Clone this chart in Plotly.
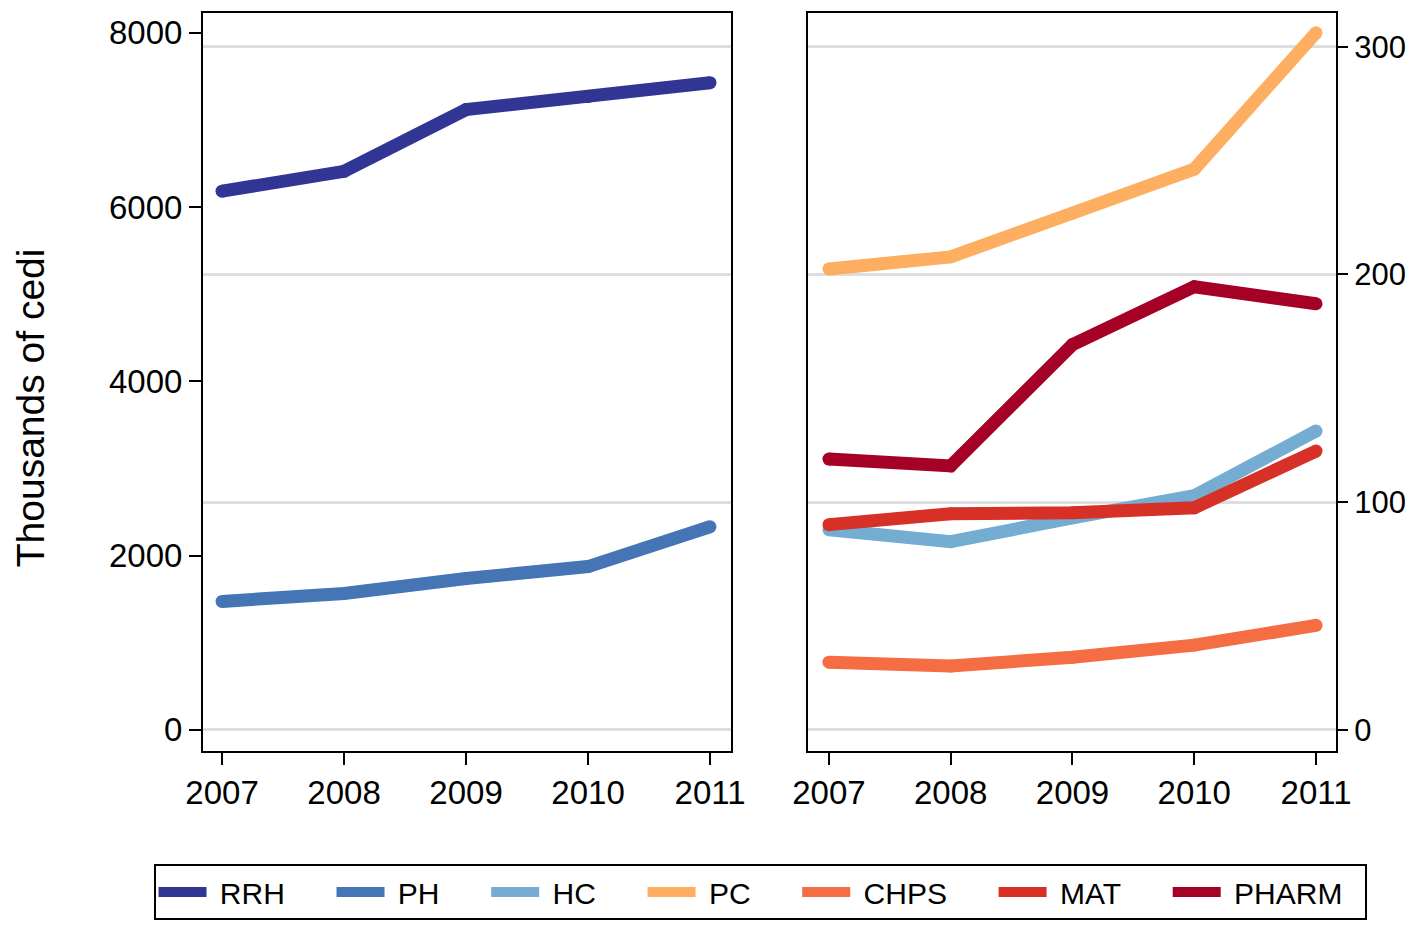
import plotly.graph_objects as go

# Dados
anos = [2007, 2008, 2009, 2010, 2011]

# painel esquerdo (escala 0-8000)
rrh = [6183, 6411, 7120, 7269, 7429]
ph = [1474, 1566, 1737, 1874, 2331]

# painel direito (escala 0-300)
hc = [87.9, 82.6, 93.1, 102.8, 131.2]
pc = [202.4, 207.7, 226.9, 246.2, 306.1]
chps = [29.7, 28.0, 31.9, 37.2, 45.9]
mat = [90.1, 94.9, 95.3, 97.5, 122.4]
pharm = [118.9, 115.9, 169.2, 194.6, 187.1]

ticks_esq = [0, 2000, 4000, 6000, 8000]
ticks_dir = [0, 100, 200, 300]

cores = {
    'RRH': '#313695', 'PH': '#4575b4', 'HC': '#74add1', 'PC': '#fdae61',
    'CHPS': '#f46d43', 'MAT': '#d73027', 'PHARM': '#a50026',
}

# espaços não separáveis para afastar os itens da legenda
esp = '\u00a0'

def rotulo(nome, fim=5):
    return esp + nome + esp * fim

def linha(fig, nome, vals, eixo_x, eixo_y, fim=5):
    # linha grossa + pontos redondos para imitar as pontas arredondadas
    fig.add_trace(go.Scatter(x=anos, y=vals, mode='lines', name=rotulo(nome, fim),
                             line=dict(color=cores[nome], width=13),
                             legendgroup=nome, xaxis=eixo_x, yaxis=eixo_y))
    fig.add_trace(go.Scatter(x=anos, y=vals, mode='markers', showlegend=False,
                             marker=dict(color=cores[nome], size=13, line=dict(width=0)),
                             legendgroup=nome, xaxis=eixo_x, yaxis=eixo_y))

fig = go.Figure()

# Linhas do painel esquerdo
for nome, vals in [('RRH', rrh), ('PH', ph)]:
    linha(fig, nome, vals, 'x', 'y')

# eixo só para as linhas de grade do painel esquerdo
fig.add_trace(go.Scatter(x=[], y=[], xaxis='x', yaxis='y3', showlegend=False))

# Linhas do painel direito
for nome, vals in [('HC', hc), ('PC', pc), ('CHPS', chps), ('MAT', mat), ('PHARM', pharm)]:
    linha(fig, nome, vals, 'x2', 'y2', 2 if nome == 'PHARM' else 5)

eixo = dict(showline=True, linecolor='black', linewidth=2, mirror=True,
            ticks='outside', ticklen=12, tickwidth=2, tickcolor='black',
            tickfont=dict(size=33, color='black'), zeroline=False,
            automargin=False)
grade = 'rgb(222,222,222)'

# a página tem 8px de margem no corpo, então a figura é 16px menor
W, H = 1400, 912
dom_y = [(H - 746) / H, (H - 5) / H]

fig.update_layout(
    width=W, height=H,
    margin=dict(l=0, r=0, t=0, b=0),
    plot_bgcolor='white', paper_bgcolor='white',
    font=dict(family='Liberation Sans', color='black'),
    xaxis=dict(eixo, domain=[195 / W, 723 / W], range=[2006.844, 2011.172],
               tickvals=anos, showgrid=False, anchor='y'),
    yaxis=dict(eixo, domain=dom_y, range=[-240, 8229], tickvals=ticks_esq,
               showgrid=False, anchor='x'),
    yaxis3=dict(overlaying='y', range=[-9.18, 314.8], tickvals=ticks_dir,
                showgrid=True, gridcolor=grade, gridwidth=2.5, showticklabels=False,
                showline=False, zeroline=False, ticks='', anchor='x'),
    xaxis2=dict(eixo, domain=[800 / W, 1328 / W], range=[2006.828, 2011.164],
                tickvals=anos, showgrid=False, anchor='y2'),
    yaxis2=dict(eixo, domain=dom_y, range=[-9.18, 314.8], tickvals=ticks_dir,
                side='right', showgrid=True, gridcolor=grade, gridwidth=2.5, anchor='x2',
                ticklen=10, tickfont=dict(size=31, color='black')),
    legend=dict(orientation='h', x=752 / W, xanchor='center', y=(H - 860) / H,
                yanchor='top', bordercolor='black', borderwidth=2,
                font=dict(size=30), itemwidth=48),
)

# título do eixo y, centrado no gráfico todo
fig.add_annotation(text='Thousands of cedi', textangle=-90, showarrow=False,
                   xref='paper', yref='paper', x=22 / W, y=(H - 402) / H,
                   xanchor='center', yanchor='middle', font=dict(size=39))

fig.write_html("out.html")
